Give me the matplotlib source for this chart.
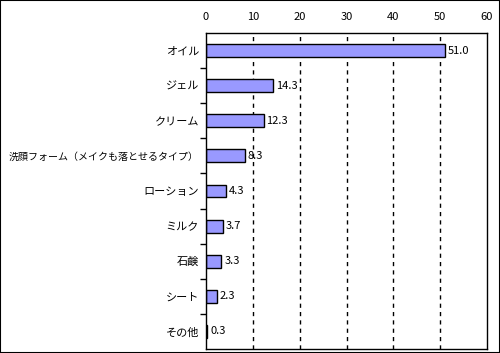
import matplotlib
matplotlib.use('Agg')
import matplotlib.pyplot as plt
from matplotlib.patches import Rectangle

plt.rcParams['font.family'] = ['Noto Sans CJK JP', 'DejaVu Sans']

categories = ['オイル', 'ジェル', 'クリーム', '洗顔フォーム（メイクも落とせるタイプ）',
              'ローション', 'ミルク', '石鹸', 'シート', 'その他']
values = [51.0, 14.3, 12.3, 8.3, 4.3, 3.7, 3.3, 2.3, 0.3]
x_ticks = [0, 10, 20, 30, 40, 50, 60]

fig = plt.figure(figsize=(5.0, 3.53), dpi=100)
ax = fig.add_axes([206 / 500, 1 - 349 / 353, (487 - 206) / 500, (349 - 33) / 353])

y_pos = list(range(len(categories)))
bars = ax.barh(y_pos, values, height=0.37, color='#9999FF', edgecolor='black', linewidth=1.0)

ax.set_xlim(0, 60)
ax.set_ylim(len(categories) - 0.5, -0.5)
ax.xaxis.tick_top()
ax.set_xticks(x_ticks)
ax.set_xticklabels([str(t) for t in x_ticks], fontsize=8)
ax.tick_params(axis='x', length=0, pad=8)

ax.set_yticks(y_pos)
ax.set_yticklabels(categories, fontsize=8)
ax.tick_params(axis='y', which='major', length=0, pad=5)
ax.set_yticks([i + 0.5 for i in y_pos[:-1]], minor=True)
ax.tick_params(axis='y', which='minor', length=4, width=1, direction='out')
# the long label is drawn a bit smaller so it fits in the figure
ax.get_yticklabels()[3].set_fontsize(7.2)

for t in x_ticks[1:-1]:
    ax.axvline(t, color='black', linestyle=(0, (3, 3)), linewidth=1.0, zorder=0)

for bar, v in zip(bars, values):
    ax.text(bar.get_width() + 0.6, bar.get_y() + bar.get_height() / 2, f'{v:.1f}',
            va='center', ha='left', fontsize=8)

for s in ax.spines.values():
    s.set_linewidth(1.0)
    s.set_color('black')

fig.patches.append(Rectangle((0, 0), 1, 1, transform=fig.transFigure, fill=False,
                             edgecolor='black', linewidth=1.5))

plt.savefig('out.png', dpi=100)
plt.close()
